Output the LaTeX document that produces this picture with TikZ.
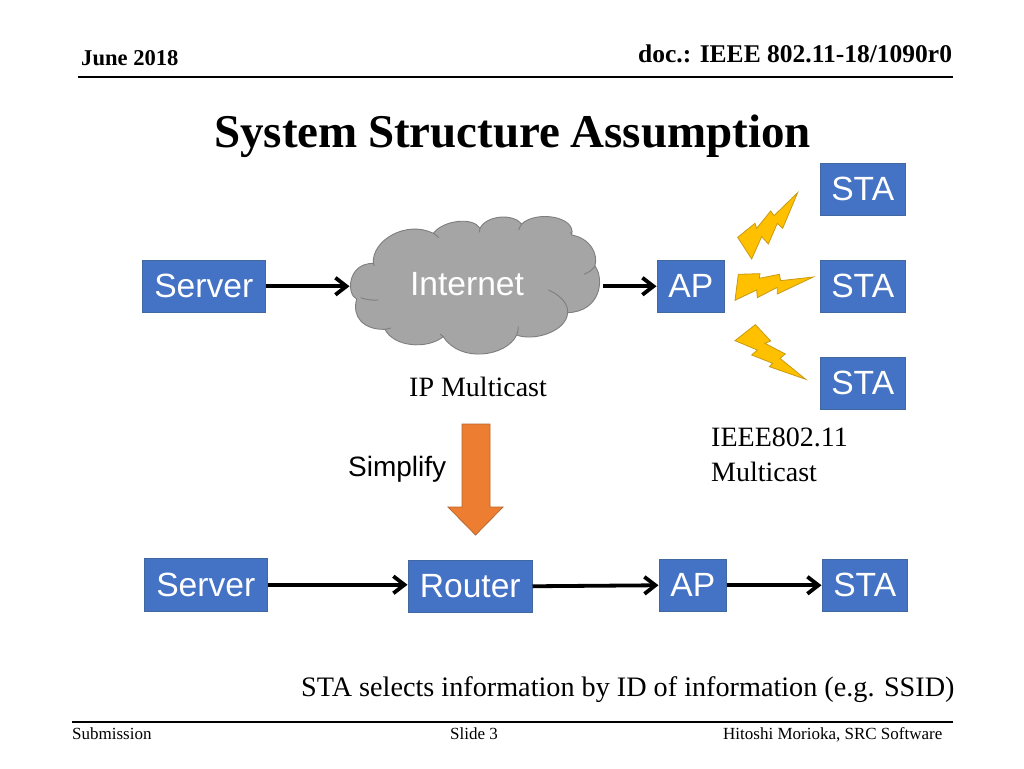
\documentclass[tikz,border=0pt]{standalone}
\usepackage{fontspec}
\setmainfont{Liberation Serif}
\setsansfont{Liberation Sans}
\usetikzlibrary{arrows.meta}
\definecolor{boxblue}{HTML}{4472C4}
\definecolor{boxedge}{HTML}{41689F}
\definecolor{cloudgrey}{HTML}{A5A5A5}
\definecolor{cloudedge}{HTML}{7E7E7E}
\definecolor{boltfill}{HTML}{FFC000}
\definecolor{boltedge}{HTML}{C79A12}
\definecolor{downfill}{HTML}{ED7D31}
\definecolor{downedge}{HTML}{B9672F}
\tikzset{
  x=1pt,y=-1pt,
  bluebox/.style={draw=boxedge,line width=1pt,fill=boxblue,text=white,font=\sffamily\fontsize{33.6}{36}\selectfont,inner sep=0pt,anchor=north west},
  link/.style={draw=black,line width=3.8pt,-{Straight Barb[length=11pt,width=17pt,line width=3.8pt]},shorten >=0.5pt},
  bolt/.style={fill=boltfill,draw=boltedge,line width=0.8pt,line join=miter},
  lab/.style={anchor=base west,inner sep=0pt,text=black},
  rule/.style={draw=black,line width=1.2pt},
}
\begin{document}
\begin{tikzpicture}
\useasboundingbox (0,0) rectangle (1024,768);
\fill[white] (0,0) rectangle (1024,768);
% header and footer
\coordinate (tl) at (78,77); \coordinate (tr) at (953,77);
\coordinate (bl) at (72,722); \coordinate (br) at (953,722);
\draw[rule] (tl) -- (tr);
\draw[rule] (bl) -- (br);
\node[lab,font=\bfseries\fontsize{22.6}{24}\selectfont] (date) at (81,66) {June 2018};
\node[lab,font=\bfseries\fontsize{25.5}{28}\selectfont] (doc) at (638,63) {doc.: IEEE 802.11-18/1090r0};
\node[lab,font=\bfseries\fontsize{47}{54}\selectfont] (title) at (214,147) {\spaceskip=0.22em\relax System Structure Assumption};
\node[lab,font=\fontsize{17}{18}\selectfont] (sub) at (72,739) {Submission};
\node[lab,font=\fontsize{17}{18}\selectfont] (slide) at (450,739) {Slide 3};
\node[lab,font=\fontsize{17}{18}\selectfont] (auth) at (723,739) {Hitoshi Morioka, SRC Software};
% cloud
\begin{scope}[shift={(340,200)},x=0.3333pt,y=-0.3333pt]
\draw[fill=cloudgrey,draw=cloudedge,line width=0.9pt]
 (100,190) .. controls (95,120) and (200,60) .. (280,100)
 .. controls (310,60) and (400,50) .. (420,85)
 .. controls (440,45) and (520,40) .. (545,72)
 .. controls (590,30) and (710,50) .. (695,105)
 .. controls (750,115) and (775,160) .. (765,198)
 .. controls (795,240) and (780,335) .. (683,338)
 .. controls (680,395) and (580,425) .. (530,405)
 .. controls (500,470) and (360,490) .. (310,410)
 .. controls (260,450) and (160,440) .. (135,388)
 .. controls (70,390) and (35,350) .. (50,297)
 .. controls (20,285) and (20,190) .. (100,190) -- cycle;
\draw[cloudedge,line width=0.9pt]
 (62,293) .. controls (75,298) and (95,302) .. (115,300)
 (135,388) .. controls (140,388) and (145,386) .. (152,384)
 (310,410) .. controls (306,408) and (303,405) .. (300,402)
 (530,405) .. controls (533,398) and (535,390) .. (535,380)
 (683,338) .. controls (685,310) and (660,285) .. (625,270)
 (765,198) .. controls (760,208) and (745,218) .. (732,223)
 (695,105) .. controls (695,103) and (695,100) .. (692,96)
 (545,72) .. controls (541,78) and (538,84) .. (536,90)
 (420,85) .. controls (418,89) and (418,92) .. (418,97)
 (280,100) .. controls (285,103) and (291,107) .. (296,113)
 (100,190) .. controls (100,192) and (101,194) .. (103,198);
\end{scope}
\node[font=\sffamily\fontsize{33.6}{36}\selectfont,text=white,inner sep=0pt] (internet) at (467,284) {Internet};
\coordinate (cloudw) at (350,286);
\coordinate (cloude) at (603,286);
% boxes upper
\node[bluebox,minimum width=122.5pt,minimum height=51.5pt] (server1) at (142,260) {\raisebox{-1.5pt}{Server}};
\node[bluebox,minimum width=66.5pt,minimum height=51.5pt] (ap1) at (657,260) {\raisebox{-1pt}{AP}};
\node[bluebox,minimum width=84.5pt,minimum height=51.5pt] (sta2) at (820,260) {\raisebox{-1pt}{STA}};
\node[bluebox,minimum width=84.5pt,minimum height=51.5pt] (sta1) at (820,163) {STA};
\node[bluebox,minimum width=84.5pt,minimum height=51.5pt] (sta3) at (820,357) {STA};
% boxes lower
\node[bluebox,minimum width=122.5pt,minimum height=52.5pt] (server2) at (144,558) {Server};
\node[bluebox,minimum width=123.5pt,minimum height=51.5pt] (router) at (408,560) {\raisebox{-1.5pt}{Router}};
\node[bluebox,minimum width=66.5pt,minimum height=51.5pt] (ap2) at (659,559) {AP};
\node[bluebox,minimum width=84.5pt,minimum height=51.5pt] (sta4) at (822,559) {STA};
% connectors
\draw[link] (server1.east) -- (server1.east -| cloudw);
\draw[link] (cloude |- ap1.west) -- (ap1.west);
\draw[link] (server2.east) -- (server2.east -| router.west);
\draw[link] (router.east) -- (ap2.west);
\draw[link] (ap2.east) -- (sta4.west);
% lightning
\begin{scope}[shift={(640,150)},x=0.3333pt,y=-0.3333pt]
\draw[bolt] (473,128) -- (428,235) -- (412,220) -- (385,282) -- (365,260) -- (335,327) -- (293,262) -- (345,220) -- (350,235) -- (392,183) -- (402,197) -- cycle;
\draw[bolt] (285,451) -- (295,373) -- (360,371) -- (358,385) -- (418,373) -- (422,392) -- (520,381) -- (412,432) -- (412,412) -- (352,443) -- (350,420) -- cycle;
\draw[bolt] (285,572) -- (346,524) -- (392,573) -- (375,580) -- (436,612) -- (420,625) -- (497,688) -- (388,650) -- (398,640) -- (335,615) -- (352,600) -- cycle;
\end{scope}
% simplify arrow
\draw[fill=downfill,draw=downedge,line width=0.8pt] (462,424) -- (490,424) -- (490,507) -- (503,507) -- (475.5,535) -- (448,507) -- (462,507) -- cycle;
% labels
\node[lab,font=\fontsize{28}{30}\selectfont] (ipm) at (409,396) {IP Multicast};
\node[lab,font=\fontsize{28}{30}\selectfont] (ieee) at (711,446) {IEEE802.11};
\node[lab,font=\fontsize{28}{30}\selectfont] (mc) at (711,481) {Multicast};
\node[lab,font=\sffamily\fontsize{28}{30}\selectfont] (simp) at (348,476) {Simplify};
\node[lab,font=\fontsize{28.2}{32}\selectfont] (note) at (301,696) {STA selects information by ID of information (e.g. SSID)};
\end{tikzpicture}
\end{document}
